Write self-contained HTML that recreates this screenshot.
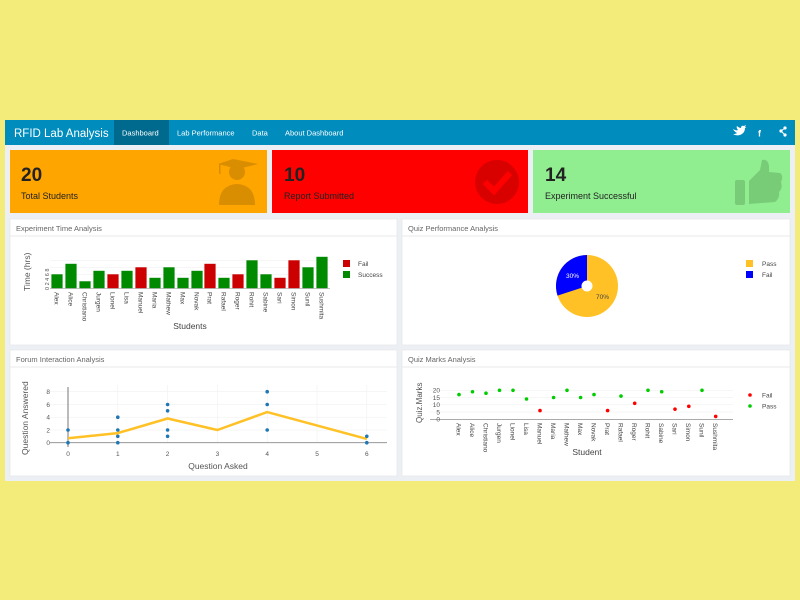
<!DOCTYPE html>
<html><head><meta charset="utf-8"><style>
html,body{margin:0;padding:0;background:#f3ec7a;}
svg{display:block;font-family:"Liberation Sans","DejaVu Sans",sans-serif;}
</style></head><body>
<svg width="800" height="600" viewBox="0 0 800 600" xmlns="http://www.w3.org/2000/svg">
<rect x="0" y="0" width="800" height="600" fill="#f3ec7a"/>
<rect x="5" y="120" width="790" height="361" fill="#ecf0f5"/>
<!-- navbar -->
<rect x="5" y="120" width="790" height="25" fill="#008cbd"/>
<rect x="114" y="120" width="55" height="25" fill="#006a8e"/>
<text x="14" y="137" font-size="11.5" fill="#fff">RFID Lab Analysis</text>
<text x="122" y="135.5" font-size="7.5" fill="#fff">Dashboard</text>
<text x="177" y="135.5" font-size="7.5" fill="#fff">Lab Performance</text>
<text x="252" y="135.5" font-size="7.5" fill="#fff">Data</text>
<text x="285" y="135.5" font-size="7.5" fill="#fff">About Dashboard</text>
<path d="M733 129 Q736 131 738 130 Q736 128 737 126 Q739 128 741 128 Q741 125 744 126 L746 125 L745 127 L746.5 127 L745 128 Q745 133 740 135 Q736 136 733 134 Q736 134 737 133 Q735 132 734.5 131 Q734 131 733 129 Z" fill="#fff"/>
<text x="758" y="136.5" font-size="9" fill="#fff" font-weight="bold">f</text>
<g fill="#fff"><circle cx="781" cy="131" r="1.6"/><circle cx="785" cy="128" r="1.6"/><circle cx="785" cy="135" r="1.6"/><path d="M781 131 L785 128 M781 131 L785 135" stroke="#fff" stroke-width="1"/></g>
<!-- value boxes -->
<rect x="10" y="150" width="257" height="63" fill="#ffa500"/>
<rect x="272" y="150" width="256" height="63" fill="#ff0000"/>
<rect x="533" y="150" width="257" height="63" fill="#90ee90"/>
<g fill="#d98d00">
<path d="M218 164 L233 159 L258 164 L238 169 Z"/><circle cx="237" cy="172" r="8"/><path d="M219 205 Q219 185 237 184 Q255 185 255 205 Z"/><rect x="219" y="164" width="1.5" height="10"/>
</g>
<circle cx="497" cy="182" r="22" fill="#d90000"/>
<path d="M485 182 L494 191 L510 173" stroke="#ff0000" stroke-width="6" fill="none"/>
<g fill="#78cc78"><rect x="735" y="180" width="10" height="25" rx="2"/><path d="M749 181 L760 170 L762 160 Q770 158 769 172 L780 173 Q784 176 781 182 Q783 188 779 192 Q780 198 775 202 L749 204 Z"/></g>
<text x="21" y="181" font-size="19" font-weight="bold" fill="#222">20</text>
<text x="21" y="199" font-size="9" fill="#222">Total Students</text>
<text x="284" y="181" font-size="19" font-weight="bold" fill="#222">10</text>
<text x="284" y="199" font-size="9" fill="#222">Report Submitted</text>
<text x="545" y="181" font-size="19" font-weight="bold" fill="#222">14</text>
<text x="545" y="199" font-size="9" fill="#222">Experiment Successful</text>
<!-- panels -->
<g fill="#fff" stroke="#e3e3e3" stroke-width="0.6">
<rect x="10" y="219" width="387" height="126"/><rect x="402" y="219" width="388" height="126"/>
<rect x="10" y="350" width="387" height="126"/><rect x="402" y="350" width="388" height="126"/>
</g>
<g stroke="#eaeaea" stroke-width="1"><line x1="10" y1="236" x2="397" y2="236"/><line x1="402" y1="236" x2="790" y2="236"/><line x1="10" y1="367" x2="397" y2="367"/><line x1="402" y1="367" x2="790" y2="367"/></g>
<g font-size="7.5" fill="#666"><text x="16" y="231">Experiment Time Analysis</text><text x="408" y="231">Quiz Performance Analysis</text><text x="16" y="362">Forum Interaction Analysis</text><text x="408" y="362">Quiz Marks Analysis</text></g>

<!-- bar chart -->
<g stroke="#eee" stroke-width="0.5"><line x1="50" y1="260.3" x2="330" y2="260.3"/><line x1="50" y1="267.3" x2="330" y2="267.3"/><line x1="50" y1="274.3" x2="330" y2="274.3"/><line x1="50" y1="281.3" x2="330" y2="281.3"/></g>
<g font-size="5.5" fill="#555"><text transform="translate(49,290) rotate(-90)">0 2 4 6 8</text></g>
<text transform="translate(30,291) rotate(-90)" font-size="8.5" fill="#555">Time (hrs)</text>
<g fill="#008a00">
<rect x="51.4" y="274.3" width="11.2" height="14"/>
<rect x="65.4" y="263.8" width="11.2" height="24.5"/>
<rect x="79.4" y="281.3" width="11.2" height="7"/>
<rect x="93.4" y="270.8" width="11.2" height="17.5"/>
<rect x="121.4" y="270.8" width="11.2" height="17.5"/>
<rect x="149.4" y="277.8" width="11.2" height="10.5"/>
<rect x="163.4" y="267.3" width="11.2" height="21"/>
<rect x="177.4" y="277.8" width="11.2" height="10.5"/>
<rect x="191.4" y="270.8" width="11.2" height="17.5"/>
<rect x="218.4" y="277.8" width="11.2" height="10.5"/>
<rect x="246.4" y="260.3" width="11.2" height="28"/>
<rect x="260.4" y="274.3" width="11.2" height="14"/>
<rect x="302.4" y="267.3" width="11.2" height="21"/>
<rect x="316.4" y="256.8" width="11.2" height="31.5"/>
</g>
<g fill="#cc0000">
<rect x="107.4" y="274.3" width="11.2" height="14"/>
<rect x="135.4" y="267.3" width="11.2" height="21"/>
<rect x="204.4" y="263.8" width="11.2" height="24.5"/>
<rect x="232.4" y="274.3" width="11.2" height="14"/>
<rect x="274.4" y="277.8" width="11.2" height="10.5"/>
<rect x="288.4" y="260.3" width="11.2" height="28"/>
</g>
<line x1="50" y1="288.5" x2="330" y2="288.5" stroke="#888" stroke-width="0.6"/>
<g font-size="6.5" fill="#444">
<text transform="translate(54.5,292) rotate(90)">Alex</text>
<text transform="translate(68.5,292) rotate(90)">Alice</text>
<text transform="translate(82.5,292) rotate(90)">Christiano</text>
<text transform="translate(96.5,292) rotate(90)">Jurgen</text>
<text transform="translate(110.5,292) rotate(90)">Lionel</text>
<text transform="translate(124.5,292) rotate(90)">Lisa</text>
<text transform="translate(138.5,292) rotate(90)">Manuel</text>
<text transform="translate(152.5,292) rotate(90)">Maria</text>
<text transform="translate(166.5,292) rotate(90)">Mathew</text>
<text transform="translate(180.5,292) rotate(90)">Max</text>
<text transform="translate(194.5,292) rotate(90)">Novak</text>
<text transform="translate(207.5,292) rotate(90)">Prat</text>
<text transform="translate(221.5,292) rotate(90)">Rafael</text>
<text transform="translate(235.5,292) rotate(90)">Roger</text>
<text transform="translate(249.5,292) rotate(90)">Rohit</text>
<text transform="translate(263.5,292) rotate(90)">Sabine</text>
<text transform="translate(277.5,292) rotate(90)">Sari</text>
<text transform="translate(291.5,292) rotate(90)">Simon</text>
<text transform="translate(305.5,292) rotate(90)">Sunil</text>
<text transform="translate(319.5,292) rotate(90)">Sushmita</text>
</g>
<text x="190" y="329" font-size="8.5" fill="#444" text-anchor="middle">Students</text>
<rect x="343" y="260" width="7" height="7" fill="#cc0000"/><text x="358" y="266" font-size="6.5" fill="#444">Fail</text>
<rect x="343" y="271" width="7" height="7" fill="#008a00"/><text x="358" y="277" font-size="6.5" fill="#444">Success</text>

<!-- pie -->
<circle cx="587" cy="286" r="31" fill="#ffc125"/>
<path d="M587 286 L587 255 A31 31 0 0 0 557.5 295.6 Z" fill="#0000ff"/>
<circle cx="587" cy="286" r="5.5" fill="#fff"/>
<text x="566" y="278" font-size="6.5" fill="#fff">30%</text>
<text x="596" y="299" font-size="6.5" fill="#444">70%</text>
<rect x="746" y="260" width="7" height="7" fill="#ffc125"/><text x="762" y="266" font-size="6.5" fill="#444">Pass</text>
<rect x="746" y="271" width="7" height="7" fill="#0000ff"/><text x="762" y="277" font-size="6.5" fill="#444">Fail</text>

<!-- forum -->
<g stroke="#eee" stroke-width="0.5">
<line x1="50" y1="391.7" x2="387" y2="391.7"/><line x1="50" y1="404.5" x2="387" y2="404.5"/><line x1="50" y1="417.2" x2="387" y2="417.2"/><line x1="50" y1="430" x2="387" y2="430"/>
<line x1="117.8" y1="385" x2="117.8" y2="443"/><line x1="167.6" y1="385" x2="167.6" y2="443"/><line x1="217.4" y1="385" x2="217.4" y2="443"/><line x1="267.2" y1="385" x2="267.2" y2="443"/><line x1="317" y1="385" x2="317" y2="443"/><line x1="366.8" y1="385" x2="366.8" y2="443"/>
</g>
<line x1="50" y1="442.7" x2="387" y2="442.7" stroke="#888" stroke-width="0.8"/>
<line x1="68" y1="387" x2="68" y2="447" stroke="#555" stroke-width="0.8"/>
<g font-size="6.5" fill="#555" text-anchor="end"><text x="50" y="445">0</text><text x="50" y="432.3">2</text><text x="50" y="419.5">4</text><text x="50" y="406.8">6</text><text x="50" y="394">8</text></g>
<g font-size="6.5" fill="#555" text-anchor="middle"><text x="68" y="456">0</text><text x="117.8" y="456">1</text><text x="167.6" y="456">2</text><text x="217.4" y="456">3</text><text x="267.2" y="456">4</text><text x="317" y="456">5</text><text x="366.8" y="456">6</text></g>
<text x="218" y="469" font-size="8.5" fill="#555" text-anchor="middle">Question Asked</text>
<text transform="translate(28,455) rotate(-90)" font-size="8.5" fill="#555">Question Answered</text>
<polyline points="68,438.2 117.8,433.1 167.6,418.5 217.4,430 267.2,412.1 366.8,438.9" fill="none" stroke="#ffc125" stroke-width="2.5" stroke-linejoin="round"/>
<g fill="#1f77b4">
<circle cx="68" cy="442.7" r="1.8"/><circle cx="68" cy="430" r="1.8"/>
<circle cx="117.8" cy="442.7" r="1.8"/><circle cx="117.8" cy="436.3" r="1.8"/><circle cx="117.8" cy="430" r="1.8"/><circle cx="117.8" cy="417.2" r="1.8"/>
<circle cx="167.6" cy="436.3" r="1.8"/><circle cx="167.6" cy="430" r="1.8"/><circle cx="167.6" cy="410.8" r="1.8"/><circle cx="167.6" cy="404.5" r="1.8"/>
<circle cx="267.2" cy="430" r="1.8"/><circle cx="267.2" cy="404.5" r="1.8"/><circle cx="267.2" cy="391.7" r="1.8"/>
<circle cx="366.8" cy="442.7" r="1.8"/><circle cx="366.8" cy="436.3" r="1.8"/>
</g>

<!-- quiz marks -->
<g stroke="#eee" stroke-width="0.5">
<line x1="430" y1="390.3" x2="733" y2="390.3"/><line x1="430" y1="397.5" x2="733" y2="397.5"/><line x1="430" y1="404.8" x2="733" y2="404.8"/><line x1="430" y1="412" x2="733" y2="412"/>
</g>
<line x1="430" y1="419.3" x2="733" y2="419.3" stroke="#777" stroke-width="0.7"/>
<g font-size="6.5" fill="#555" text-anchor="end"><text x="440" y="421.5">0</text><text x="440" y="414.3">5</text><text x="440" y="407">10</text><text x="440" y="399.8">15</text><text x="440" y="392.5">20</text></g>
<text transform="translate(422,423) rotate(-90)" font-size="8" fill="#555">Quiz.Marks</text>
<g fill="#00cc00">
<circle cx="459" cy="394.6" r="1.8"/><circle cx="472.5" cy="391.75" r="1.8"/><circle cx="486" cy="393.2" r="1.8"/><circle cx="499.5" cy="390.3" r="1.8"/><circle cx="513" cy="390.3" r="1.8"/><circle cx="526.5" cy="399" r="1.8"/>
<circle cx="553.6" cy="397.5" r="1.8"/><circle cx="567" cy="390.3" r="1.8"/><circle cx="580.6" cy="397.5" r="1.8"/><circle cx="594" cy="394.6" r="1.8"/>
<circle cx="621" cy="396.1" r="1.8"/><circle cx="648" cy="390.3" r="1.8"/><circle cx="661.7" cy="391.75" r="1.8"/><circle cx="702" cy="390.3" r="1.8"/>
</g>
<g fill="#ff0000">
<circle cx="540" cy="410.6" r="1.8"/><circle cx="607.6" cy="410.6" r="1.8"/><circle cx="634.7" cy="403.3" r="1.8"/><circle cx="675" cy="409.15" r="1.8"/><circle cx="688.8" cy="406.3" r="1.8"/><circle cx="715.7" cy="416.4" r="1.8"/>
</g>
<g font-size="6.5" fill="#444">
<text transform="translate(456.5,423) rotate(90)">Alex</text>
<text transform="translate(470,423) rotate(90)">Alice</text>
<text transform="translate(483.5,423) rotate(90)">Christiano</text>
<text transform="translate(497,423) rotate(90)">Jurgen</text>
<text transform="translate(510.5,423) rotate(90)">Lionel</text>
<text transform="translate(524,423) rotate(90)">Lisa</text>
<text transform="translate(537.5,423) rotate(90)">Manuel</text>
<text transform="translate(551,423) rotate(90)">Maria</text>
<text transform="translate(564.5,423) rotate(90)">Mathew</text>
<text transform="translate(578,423) rotate(90)">Max</text>
<text transform="translate(591.5,423) rotate(90)">Novak</text>
<text transform="translate(605,423) rotate(90)">Prat</text>
<text transform="translate(618.5,423) rotate(90)">Rafael</text>
<text transform="translate(632,423) rotate(90)">Roger</text>
<text transform="translate(645.5,423) rotate(90)">Rohit</text>
<text transform="translate(659,423) rotate(90)">Sabine</text>
<text transform="translate(672.5,423) rotate(90)">Sari</text>
<text transform="translate(686,423) rotate(90)">Simon</text>
<text transform="translate(699.5,423) rotate(90)">Sunil</text>
<text transform="translate(713,423) rotate(90)">Sushmita</text>
</g>
<text x="587" y="455" font-size="8.5" fill="#444" text-anchor="middle">Student</text>
<circle cx="750" cy="395" r="1.8" fill="#ff0000"/><text x="762" y="397.5" font-size="6.5" fill="#444">Fail</text>
<circle cx="750" cy="406" r="1.8" fill="#00cc00"/><text x="762" y="408.5" font-size="6.5" fill="#444">Pass</text>
</svg>
</body></html>
